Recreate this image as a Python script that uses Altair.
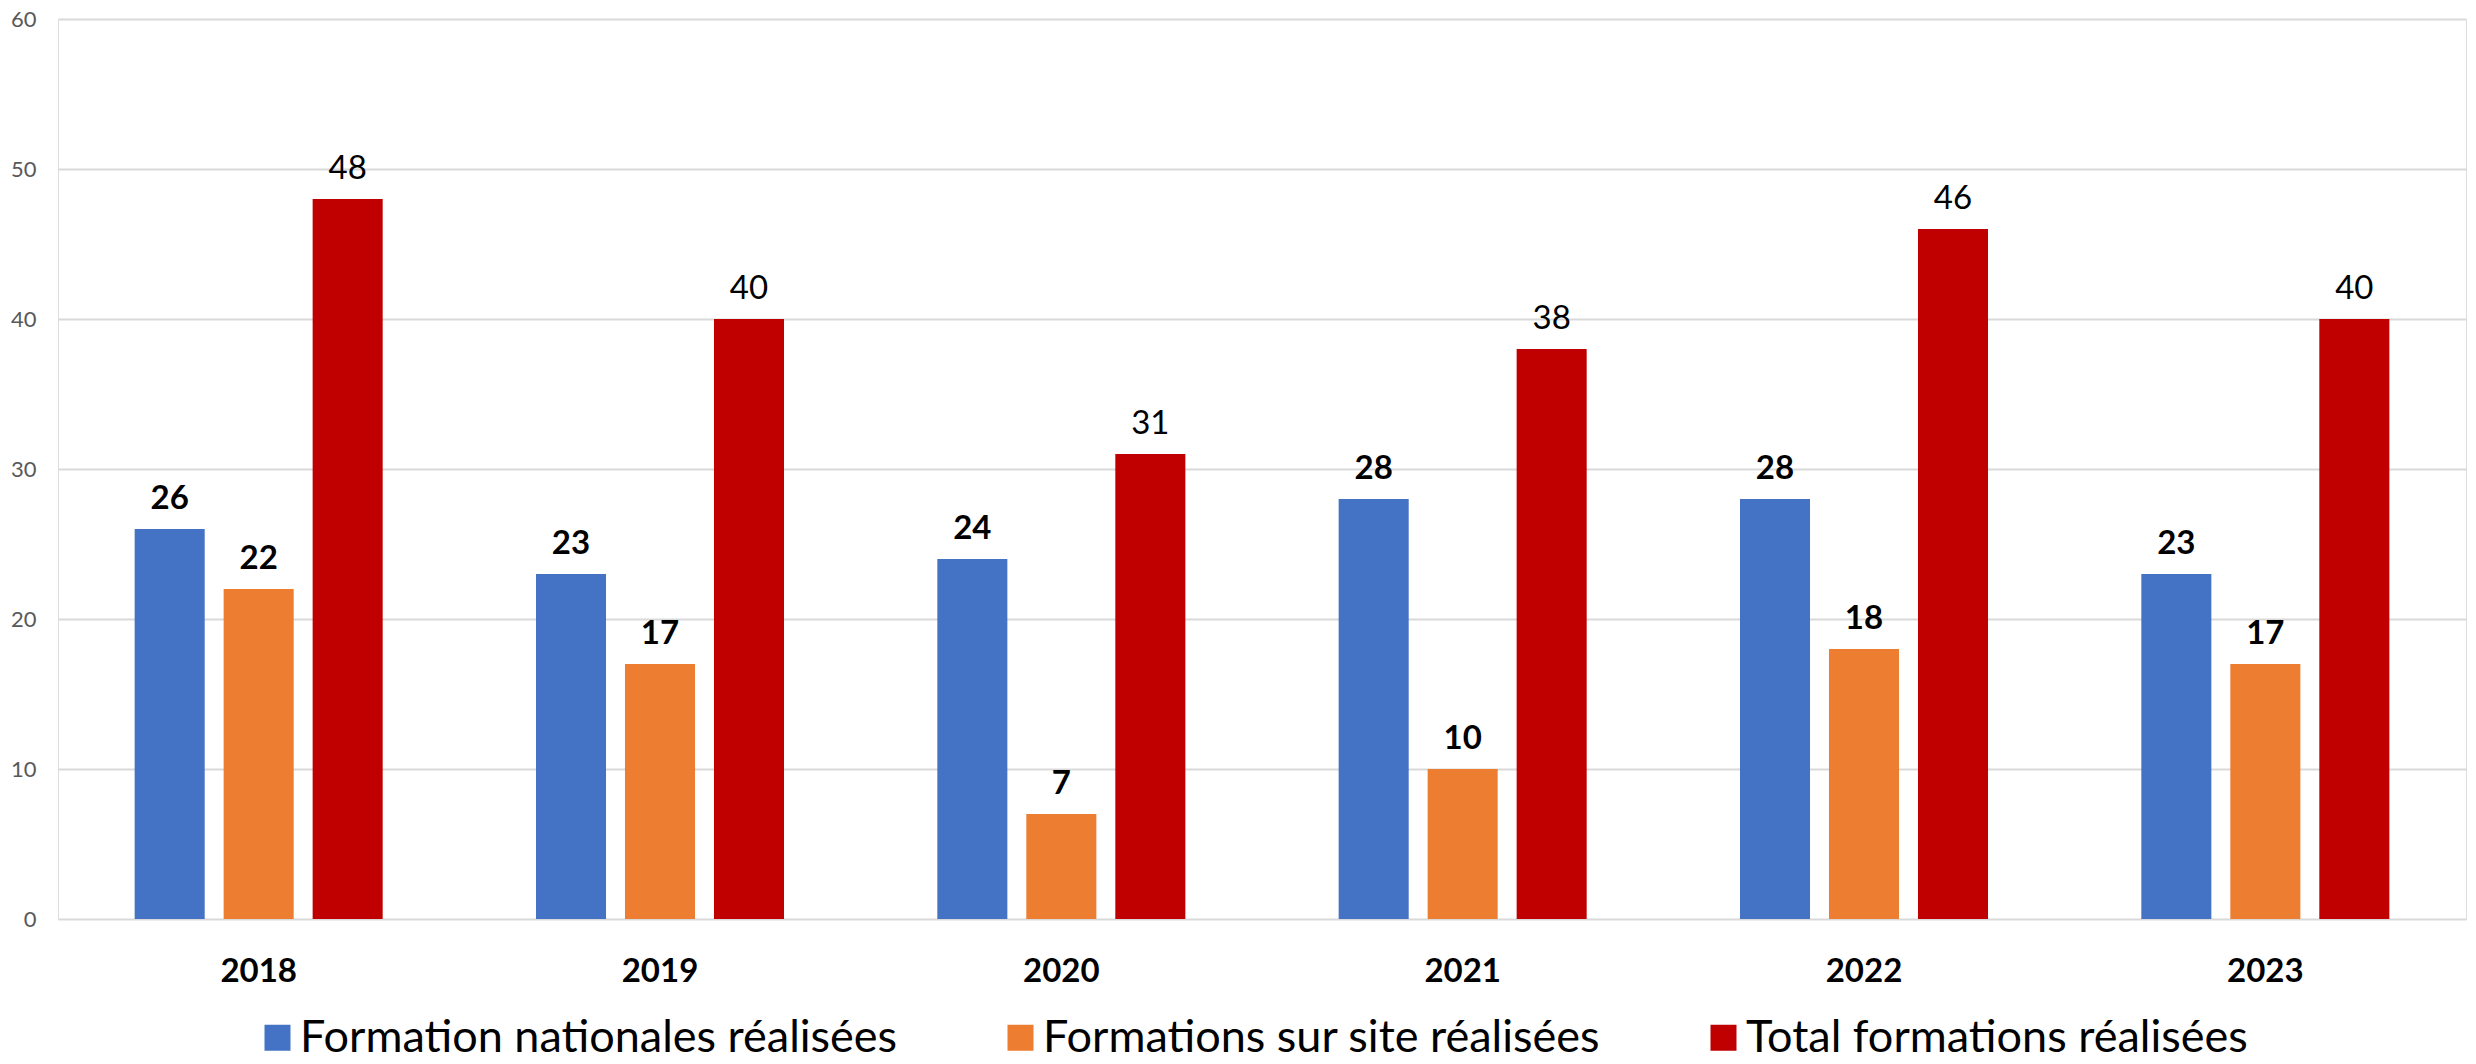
import altair as alt
import pandas as pd

years = ["2018", "2019", "2020", "2021", "2022", "2023"]
nationales = [26, 23, 24, 28, 28, 23]
sur_site = [22, 17, 7, 10, 18, 17]
total = [48, 40, 31, 38, 46, 40]

series_names = [
    "Formation nationales réalisées",
    "Formations sur site réalisées",
    "Total formations réalisées",
]
series_colors = ["#4472C4", "#ED7D31", "#C00000"]

rows = []
for i, y in enumerate(years):
    rows.append({"year": y, "series": series_names[0], "value": nationales[i]})
    rows.append({"year": y, "series": series_names[1], "value": sur_site[i]})
    rows.append({"year": y, "series": series_names[2], "value": total[i]})
df = pd.DataFrame(rows)

FONT = "Lato"

base = alt.Chart(df).encode(
    x=alt.X(
        "year:N",
        sort=years,
        title=None,
        scale=alt.Scale(paddingInner=0.382, paddingOuter=0.191),
        axis=alt.Axis(
            labelAngle=0,
            labelFont=FONT,
            labelFontSize=33,
            labelFontWeight="bold",
            labelColor="#000000",
            labelBaseline="alphabetic",
            labelPadding=62,
            ticks=False,
            tickSize=0,
            domain=False,
            grid=False,
        ),
    ),
    xOffset=alt.XOffset(
        "series:N",
        sort=series_names,
        scale=alt.Scale(paddingInner=0.213, paddingOuter=0),
    ),
    y=alt.Y(
        "value:Q",
        title=None,
        scale=alt.Scale(domain=[0, 60], nice=False),
        axis=alt.Axis(
            values=[0, 10, 20, 30, 40, 50, 60],
            labelFont=FONT,
            labelFontSize=22,
            labelColor="#595959",
            labelPadding=22,
            ticks=False,
            tickSize=0,
            domain=False,
            grid=True,
            gridColor="#D9D9D9",
            gridWidth=2,
        ),
    ),
)

bars = base.mark_bar().encode(
    color=alt.Color(
        "series:N",
        sort=series_names,
        scale=alt.Scale(domain=series_names, range=series_colors),
        legend=alt.Legend(
            title=None,
            orient="none",
            legendX=197,
            legendY=996,
            direction="horizontal",
            columns=3,
            gridAlign="each",
            columnPadding=100,
            symbolType="square",
            symbolSize=676,
            symbolStrokeWidth=0,
            symbolOffset=0,
            labelFont=FONT,
            labelFontSize=45,
            labelColor="#000000",
            labelOffset=0,
            labelLimit=0,
            padding=0,
        ),
    )
)

labels_bold = base.mark_text(
    baseline="alphabetic", dy=-20, font=FONT, fontSize=33, fontWeight="bold", color="#000000"
).encode(text="value:Q").transform_filter(
    alt.datum.series != series_names[2]
)

labels_total = base.mark_text(
    baseline="alphabetic", dy=-20, font=FONT, fontSize=33, fontWeight="normal", color="#000000"
).encode(text="value:Q").transform_filter(
    alt.datum.series == series_names[2]
)

chart = (
    alt.layer(bars, labels_bold, labels_total)
    .properties(
        width=2408,
        height=900,
        autosize=alt.AutoSizeParams(type="none"),
        padding={"left": 50, "top": 11, "right": 2, "bottom": 137},
    )
    .configure_view(stroke=None)
    .configure(background="#FFFFFF")
)

chart.save("out.html", embed_options={"renderer": "svg", "actions": False})
